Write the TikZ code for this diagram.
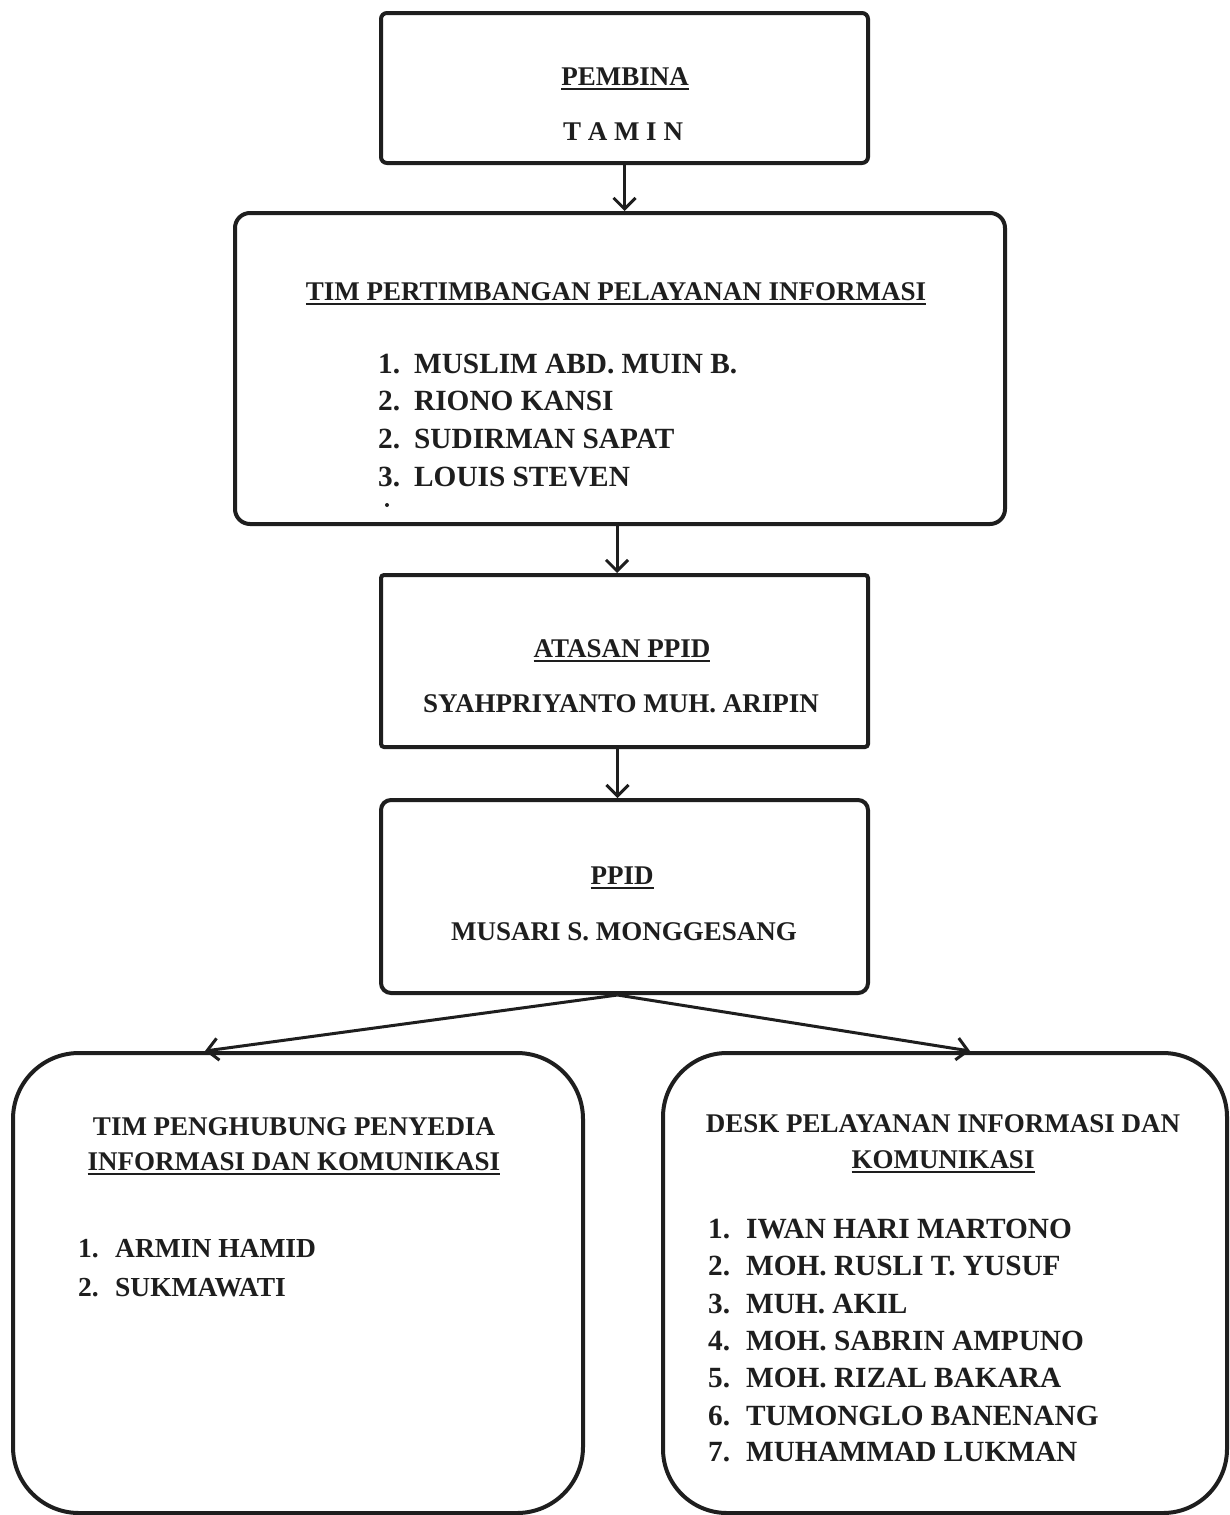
\documentclass[tikz,border=0pt]{standalone}
\usepackage{fontspec}
\setmainfont{Liberation Serif}
\usetikzlibrary{arrows.meta}
\definecolor{ink}{HTML}{1E1E1E}
\newcommand\ulx[1]{\setbox0\hbox{#1}\rlap{\rule[-5pt]{\wd0}{2pt}}\box0}
\newcommand\itm[3]{\makebox[#1][l]{#2}#3}
\begin{document}
\begin{tikzpicture}[x=1pt,y=-1pt,
  box/.style={draw=ink,line width=4pt,inner sep=0pt,fill=none},
  txt/.style={inner sep=0pt,anchor=base,text=ink,font=\bfseries\fontsize{27}{32}\selectfont},
  lst/.style={inner sep=0pt,anchor=base west,text=ink,font=\bfseries\fontsize{29.3}{34}\selectfont},
  lsts/.style={inner sep=0pt,anchor=base west,text=ink,font=\bfseries\fontsize{27.5}{33}\selectfont},
  arr/.style={draw=ink,line width=3pt,-{Straight Barb[length=11pt,width=22pt]}}]
\useasboundingbox (0,0) rectangle (1230,1515);
\fill[white] (0,0) rectangle (1230,1515);

% boxes
\node[box,rounded corners=6pt,minimum width=487pt,minimum height=150pt] (pembina) at (624.5,88) {};
\node[box,rounded corners=15pt,minimum width=770pt,minimum height=311pt] (tim) at (620,368.5) {};
\node[box,rounded corners=3pt,minimum width=487pt,minimum height=172pt] (atasan) at (624.5,661) {};
\node[box,rounded corners=10pt,minimum width=487pt,minimum height=193pt] (ppid) at (624.5,896.5) {};
\node[box,rounded corners=66pt,minimum width=570pt,minimum height=460pt] (left) at (298,1283) {};
\node[box,rounded corners=64pt,minimum width=564pt,minimum height=460pt] (right) at (945,1283) {};

% connectors
\draw[arr] (pembina.south) -- (pembina.south |- tim.north);
\draw[arr] ([xshift=-3pt]tim.south) -- ([xshift=-3pt]tim.south |- atasan.north);
\draw[arr] ([xshift=-7pt]atasan.south) -- ([xshift=-7pt]ppid.north);
\coordinate (split) at ([xshift=-7pt]ppid.south);
\draw[arr] (split) -- ([xshift=-93pt]left.north);
\draw[arr] (split) -- ([xshift=25pt]right.north);

% texts
\node[txt] (t1) at (625,85) {\ulx{PEMBINA}};
\node[txt] (t2) at (623,140) {T A M I N};
\node[txt] (t3) at (616,300) {\ulx{TIM PERTIMBANGAN PELAYANAN INFORMASI}};
\node[lst] (l1) at (378,373) {\itm{36pt}{1.}{MUSLIM ABD. MUIN B.}};
\node[lst] (l2) at (378,410) {\itm{36pt}{2.}{RIONO KANSI}};
\node[lst] (l3) at (378,448) {\itm{36pt}{2.}{SUDIRMAN SAPAT}};
\node[lst] (l4) at (378,486) {\itm{36pt}{3.}{LOUIS STEVEN}};
\fill[ink] (387,505) circle (2pt);
\node[txt] (t4) at (622,657) {\ulx{ATASAN PPID}};
\node[txt] (t5) at (621,712) {SYAHPRIYANTO MUH. ARIPIN};
\node[txt] (t6) at (622,884) {\ulx{PPID}};
\node[txt] (t7) at (624,940) {MUSARI S. MONGGESANG};
\node[txt] (t8) at (294,1135) {TIM PENGHUBUNG PENYEDIA};
\node[txt] (t9) at (294,1170) {\ulx{INFORMASI DAN KOMUNIKASI}};
\node[lsts] (a1) at (78,1257) {\itm{37pt}{1.}{ARMIN HAMID}};
\node[lsts] (a2) at (78,1296) {\itm{37pt}{2.}{SUKMAWATI}};
\node[txt] (t10) at (943,1132) {DESK PELAYANAN INFORMASI DAN};
\node[txt] (t11) at (943,1168) {\ulx{KOMUNIKASI}};
\node[lst] (d1) at (708,1238) {\itm{38pt}{1.}{IWAN HARI MARTONO}};
\node[lst] (d2) at (708,1275) {\itm{38pt}{2.}{MOH. RUSLI T. YUSUF}};
\node[lst] (d3) at (708,1313) {\itm{38pt}{3.}{MUH. AKIL}};
\node[lst] (d4) at (708,1350) {\itm{38pt}{4.}{MOH. SABRIN AMPUNO}};
\node[lst] (d5) at (708,1387) {\itm{38pt}{5.}{MOH. RIZAL BAKARA}};
\node[lst] (d6) at (708,1425) {\itm{38pt}{6.}{TUMONGLO BANENANG}};
\node[lst] (d7) at (708,1461) {\itm{38pt}{7.}{MUHAMMAD LUKMAN}};
\end{tikzpicture}
\end{document}
